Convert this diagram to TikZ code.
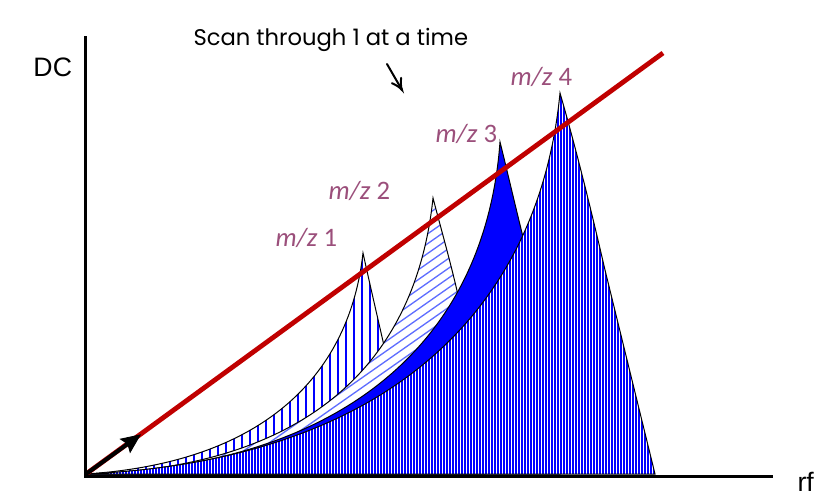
\documentclass[tikz,border=0pt]{standalone}
\usepackage{fontspec}
\setmainfont{Liberation Sans}
\newfontfamily\mzfont{Carlito}
\newfontfamily\handfont{Poppins}

\definecolor{mzpurple}{RGB}{155,79,123}
\definecolor{scanred}{RGB}{192,0,0}
\definecolor{peakblue}{RGB}{0,0,255}
\definecolor{hatchblue}{RGB}{95,110,255}

\tikzset{every picture/.style={line width=0.75pt}}
\tikzset{
  peakline/.style={draw=black, line width=0.75pt},
  vhatch/.style={draw=peakblue, line width=1.2pt},
  densehatch/.style={draw=peakblue, line width=1.1pt},
  dhatch/.style={draw=hatchblue, line width=1pt},
  axisline/.style={draw=black, line width=2.25pt},
  scanline/.style={draw=scanred, line width=3.6pt},
  axislabel/.style={anchor=base west, inner sep=0pt, font=\fontsize{20}{24}\selectfont},
  mzlabel/.style={anchor=base west, inner sep=0pt, text=mzpurple, font=\mzfont\fontsize{20}{24}\selectfont},
}

\begin{document}
\begin{tikzpicture}[x=0.75pt,y=0.75pt,yscale=-1,xscale=1]
\useasboundingbox (0,0) rectangle (831,496);

\coordinate (O) at (86,474);
\coordinate (yTop) at (85,36);
\coordinate (corner) at (85,476);
\coordinate (xEnd) at (773,476);
\coordinate (scanEnd) at (663,53);
\coordinate (arrTip) at (140,435);
\coordinate (handStart) at (387,64);
\coordinate (handTip) at (402,90);

%Shape: peak 1
\path[save path=\pkA] (O) .. controls (270,462) and (350,370) .. (363,253) .. controls (370,285) and (377,315) .. (385,350) -- (410,474) -- cycle;
\fill[white, use path=\pkA];
\begin{scope}
\clip[use path=\pkA];
\foreach \x in {90,98,...,410} \draw[vhatch] (\x,240) -- (\x,480);
\end{scope}
\draw[peakline, use path=\pkA];

%Shape: peak 2
\path[save path=\pkB] (O) .. controls (300,468) and (415,370) .. (433,198) .. controls (440,225) and (450,260) .. (458,295) -- (485,474) -- cycle;
\fill[white, use path=\pkB];
\begin{scope}
\clip[use path=\pkB];
\foreach \c in {-330,-316,...,490} \draw[dhatch] (\c,480) -- ++(420,-294);
\end{scope}
\draw[peakline, use path=\pkB];

%Shape: peak 3
\path[save path=\pkC] (O) .. controls (340,466) and (485,345) .. (500,142) .. controls (507,170) and (515,205) .. (525,245) -- (560,474) -- cycle;
\fill[peakblue, use path=\pkC];
\draw[peakline, use path=\pkC];

%Shape: peak 4
\path[save path=\pkD] (O) .. controls (400,460) and (540,300) .. (560,93) .. controls (575,145) and (590,205) .. (605,270) -- (655,474) -- cycle;
\fill[white, use path=\pkD];
\begin{scope}
\clip[use path=\pkD];
\foreach \x in {87,90,...,656} \draw[densehatch] (\x,80) -- (\x,480);
\end{scope}
\draw[peakline, use path=\pkD];

%Straight Lines: scan line
\draw[scanline] (O) -- (scanEnd);
%Straight Lines: start arrow
\draw[line width=3pt, shorten >=9pt] (O) -- (arrTip);
\draw[shift={(arrTip)}, rotate=143.9, fill=black, line width=0.75pt] (0,0) -- (18,-8) -- (15,0) -- (18,8) -- cycle;

%Straight Lines: axes
\draw[axisline] (yTop) -- (corner) -- (xEnd);

%Straight Lines: hand arrow
\draw[line width=1.5pt, line cap=round] (handStart) -- (handTip);
\draw[shift={(handTip)}, rotate=240, line width=1.5pt, line cap=round] (10.93,-5.29) .. controls (6.95,-2.4) and (3.31,-0.5) .. (0,0) .. controls (3.31,0.5) and (6.95,2.4) .. (10.93,5.29);

% Text Node
\node[axislabel] (dcLabel) at (33,76) {DC};
% Text Node
\node[axislabel] (rfLabel) at (797,491) {rf};
% Text Node
\node[mzlabel] (mzOne) at (275,246) {\itshape m/z\/\upshape{} 1};
% Text Node
\node[mzlabel] (mzTwo) at (328,199) {\itshape m/z\/\upshape{} 2};
% Text Node
\node[mzlabel] (mzThree) at (435,142) {\itshape m/z\/\upshape{} 3};
% Text Node
\node[mzlabel] (mzFour) at (510,85) {\itshape m/z\/\upshape{} 4};
% Text Node
\node[anchor=base west, inner sep=0pt, font=\handfont\fontsize{17}{20}\selectfont] (scanText) at (193,45) {Scan through 1 at a time};

\end{tikzpicture}
\end{document}
